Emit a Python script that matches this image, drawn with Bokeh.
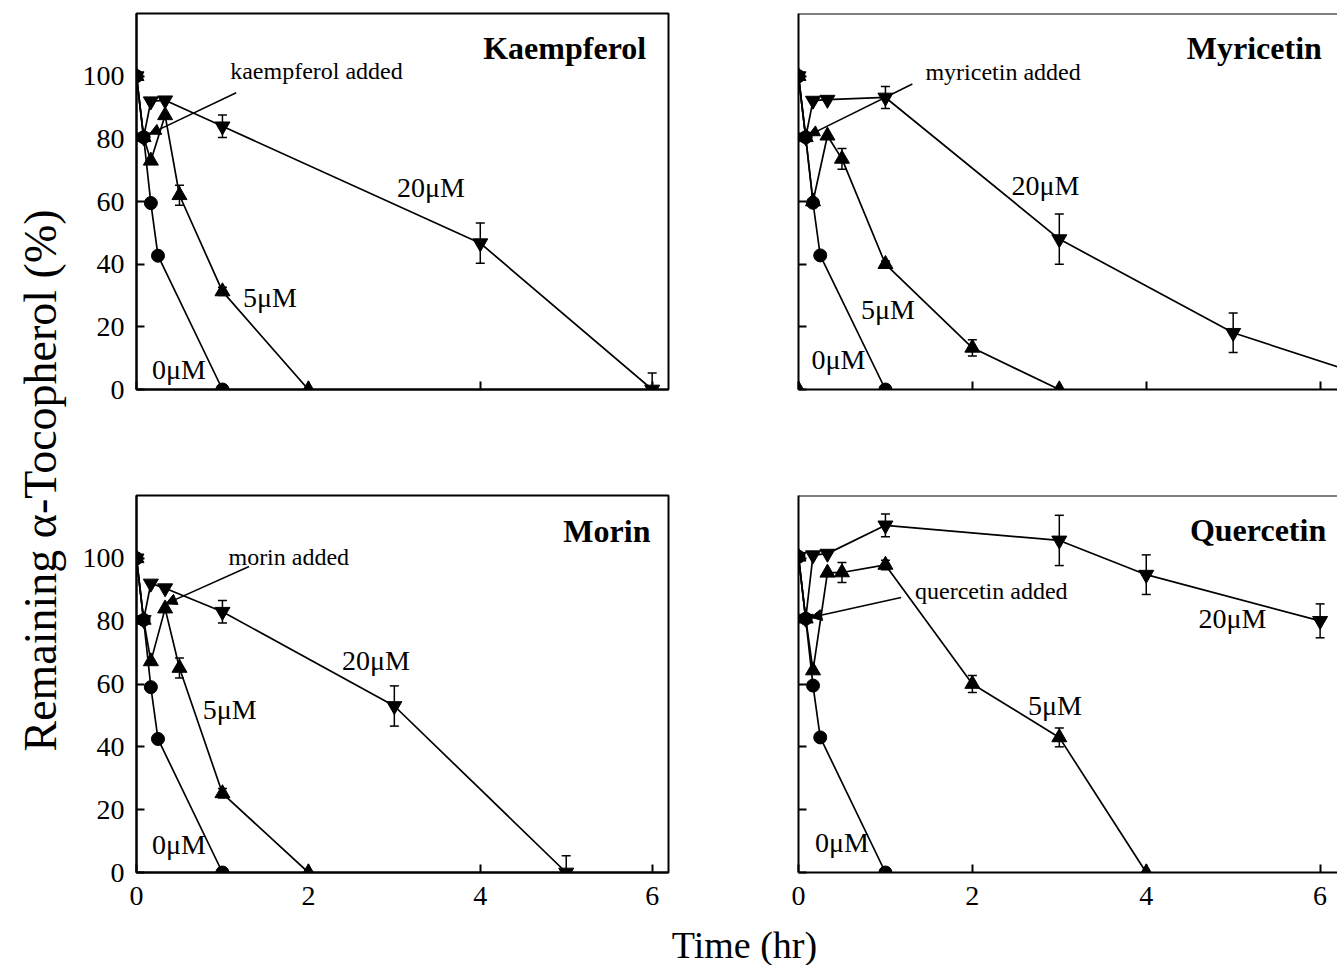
import math
from bokeh.plotting import figure
from bokeh.layouts import row, column
from bokeh.models import (Range1d, FixedTicker, Label, Whisker, TeeHead, Arrow,
                          NormalHead, ColumnDataSource, Span)
from bokeh.embed import file_html
from bokeh.resources import INLINE

FONT = "Liberation Serif"

TICKS_X = [0, 2, 4, 6]
TICKS_Y = [0, 20, 40, 60, 80, 100]

# ---------------- data (time in hr, remaining alpha-tocopherol in %) -------------
# Kaempferol
KAE_T0 = [0, 0.083, 0.167, 0.25, 1.0]
KAE_V0 = [100, 80.5, 59.5, 42.7, 0]
KAE_T5 = [0, 0.083, 0.167, 0.333, 0.5, 1.0, 2.0]
KAE_V5 = [100, 80.5, 73, 87.5, 62, 31.3, 0]
KAE_E5 = [0, 0, 0, 0, 3.2, 1.3, 0]
KAE_T20 = [0, 0.083, 0.167, 0.333, 1.0, 4.0, 6.0]
KAE_V20 = [100, 80.5, 92, 92.3, 84, 46.7, 0]
KAE_E20 = [0, 0, 0, 0, 3.6, 6.4, 5.3]

# Myricetin
MYR_T0 = [0, 0.083, 0.167, 0.25, 1.0]
MYR_V0 = [100, 80.5, 59.6, 42.8, 0]
MYR_T5 = [0, 0.083, 0.167, 0.333, 0.5, 1.0, 2.0, 3.0]
MYR_V5 = [100, 80.5, 60, 81, 73.6, 40, 13.3, 0]
MYR_E5 = [0, 0, 0, 0, 3.3, 1.0, 2.6, 0]
MYR_T20 = [0, 0.083, 0.167, 0.333, 1.0, 3.0, 5.0, 7.0]
MYR_V20 = [100, 80.5, 92.2, 92.5, 93.2, 48, 18.1, 0]
MYR_E20 = [0, 0, 0, 0, 3.5, 8.0, 6.3, 0]
MYR_STRAY_T = [0]
MYR_STRAY_V = [0]

# Morin
MOR_T0 = [0, 0.083, 0.167, 0.25, 1.0]
MOR_V0 = [100, 80.4, 59, 42.5, 0]
MOR_T5 = [0, 0.083, 0.167, 0.333, 0.5, 1.0, 2.0]
MOR_V5 = [100, 80.4, 67.2, 84, 65.1, 25.2, 0]
MOR_E5 = [0, 0, 0, 0, 3.2, 1.5, 0]
MOR_T20 = [0, 0.083, 0.167, 0.333, 1.0, 3.0, 5.0]
MOR_V20 = [100, 80.4, 92, 90.5, 83, 53, 0]
MOR_E20 = [0, 0, 0, 0, 3.6, 6.4, 5.3]

# Quercetin
QUE_T0 = [0, 0.083, 0.167, 0.25, 1.0]
QUE_V0 = [100.5, 80.8, 59.5, 43, 0]
QUE_T5 = [0, 0.083, 0.167, 0.333, 0.5, 1.0, 2.0, 3.0, 4.0]
QUE_V5 = [100.5, 80.8, 64.3, 95.4, 95.5, 97.9, 60, 43, 0]
QUE_E5 = [0, 0, 0, 0, 3.2, 1.5, 2.7, 3.0, 0]
QUE_T20 = [0, 0.083, 0.167, 0.333, 1.0, 3.0, 4.0, 6.0]
QUE_V20 = [100.5, 80.8, 101, 101.5, 110.5, 105.7, 94.8, 80.1]
QUE_E20 = [0, 0, 0, 0, 3.6, 8.0, 6.3, 5.4]

TITLES = ["Kaempferol", "Myricetin", "Morin", "Quercetin"]
ADDED = ["kaempferol added", "myricetin added", "morin added", "quercetin added"]
CONC = ["0\u03bcM", "5\u03bcM", "20\u03bcM"]


def style_axes(p, xlabels, ylabels):
    for ax in (p.xaxis[0], p.yaxis[0]):
        ax.axis_line_width = 2
        ax.axis_line_color = "black"
        ax.major_tick_line_width = 2
        ax.major_tick_line_color = "black"
        ax.major_tick_in = 8
        ax.major_tick_out = 0
        ax.minor_tick_line_color = None
        ax.major_label_text_font = FONT
        ax.major_label_text_font_size = "28px"
        ax.major_label_text_color = "black"
    p.xaxis[0].ticker = FixedTicker(ticks=TICKS_X)
    p.yaxis[0].ticker = FixedTicker(ticks=TICKS_Y)
    p.xaxis[0].major_label_standoff = 14
    p.yaxis[0].major_label_standoff = 12
    if not xlabels:
        p.xaxis[0].major_label_overrides = {t: "" for t in TICKS_X}
    if not ylabels:
        p.yaxis[0].major_label_overrides = {t: "" for t in TICKS_Y}


def make_panel(series, title, added, pos, width, height, mb, xmax,
               xlabels, ylabels, open_right, stray=None):
    p = figure(width=width, height=height, x_range=Range1d(0, xmax),
               y_range=Range1d(0, 120), toolbar_location=None,
               output_backend="svg", min_border_left=mb[0],
               min_border_right=mb[1], min_border_top=mb[2],
               min_border_bottom=mb[3])
    p.grid.visible = False
    p.background_fill_color = "white"
    p.border_fill_color = "white"
    if open_right:
        p.outline_line_color = None
        p.add_layout(Span(location=120, dimension="width", line_color="black",
                          line_width=2))
    else:
        p.outline_line_color = "black"
        p.outline_line_width = 2
        p.outline_line_alpha = 1
    style_axes(p, xlabels, ylabels)

    (t0, v0), (t5, v5, e5), (t20, v20, e20) = series

    for t, v, e in ((t5, v5, e5), (t20, v20, e20)):
        bt = [ti for ti, ei in zip(t, e) if ei > 0]
        up = [vi + ei for vi, ei in zip(v, e) if ei > 0]
        lo = [max(vi - ei, 0) for vi, ei in zip(v, e) if ei > 0]
        src = ColumnDataSource(dict(t=bt, up=up, lo=lo))
        p.add_layout(Whisker(base="t", upper="up", lower="lo", source=src,
                             line_color="black", line_width=1.5,
                             upper_head=TeeHead(size=9, line_width=1.5),
                             lower_head=TeeHead(size=9, line_width=1.5)))

    p.line(t20, v20, line_color="black", line_width=1.7)
    p.line(t5, v5, line_color="black", line_width=1.7)
    p.line(t0, v0, line_color="black", line_width=1.7)
    p.scatter(t20, v20, marker="inverted_triangle", size=15, color="black")
    p.scatter(t5, v5, marker="triangle", size=15, color="black")
    if stray is not None:
        p.scatter(stray[0], stray[1], marker="triangle", size=15, color="black")
    p.scatter(t0, v0, marker="circle", size=13, color="black")

    p.add_layout(Label(x=pos["title"][0], y=pos["title"][1], text=title,
                       text_align="right", text_baseline="middle",
                       text_font=FONT, text_font_size="32px",
                       text_font_style="bold", text_color="black"))
    p.add_layout(Label(x=pos["added"][0], y=pos["added"][1], text=added,
                       text_align="left", text_baseline="middle",
                       text_font=FONT, text_font_size="24px", text_color="black"))
    a = pos["arrow"]
    p.add_layout(Arrow(x_start=a[0], y_start=a[1], x_end=a[2], y_end=a[3],
                       line_width=1.5, line_color="black",
                       end=NormalHead(size=11, fill_color="black",
                                      line_color="black", line_width=1)))
    for lab, key in zip(CONC, ("c0", "c5", "c20")):
        p.add_layout(Label(x=pos[key][0], y=pos[key][1], text=lab,
                           text_align="left", text_baseline="middle",
                           text_font=FONT, text_font_size="28px",
                           text_color="black"))
    return p


POS_KAE = dict(title=(5.93, 109), added=(1.09, 101.5), arrow=(1.16, 94.7, 0.15, 81.5),
               c0=(0.18, 6.5), c5=(1.24, 29.5), c20=(3.03, 64.5))
POS_MYR = dict(title=(6.02, 109), added=(1.46, 101.2), arrow=(1.31, 97.5, 0.11, 81.0),
               c0=(0.15, 9.5), c5=(0.72, 25.5), c20=(2.45, 65))
POS_MOR = dict(title=(5.98, 108.6), added=(1.07, 100.5), arrow=(1.31, 97.4, 0.34, 85.5),
               c0=(0.18, 9.0), c5=(0.77, 52), c20=(2.39, 67.5))
POS_QUE = dict(title=(6.07, 109), added=(1.34, 89.5), arrow=(1.18, 87.5, 0.14, 81.2),
               c0=(0.19, 9.5), c5=(2.64, 53), c20=(4.6, 81))

YLAB_W = 72
TOP_H, BOT_H, XLAB_H = 438, 485, 42
LEFT_W, RIGHT_W = 661, 604
TOTAL_W = YLAB_W + LEFT_W + RIGHT_W

tl = make_panel(((KAE_T0, KAE_V0), (KAE_T5, KAE_V5, KAE_E5), (KAE_T20, KAE_V20, KAE_E20)),
                TITLES[0], ADDED[0], POS_KAE, LEFT_W, TOP_H, (64, 65, 13, 49), 6.19,
                False, True, False)
tr = make_panel(((MYR_T0, MYR_V0), (MYR_T5, MYR_V5, MYR_E5), (MYR_T20, MYR_V20, MYR_E20)),
                TITLES[1], ADDED[1], POS_MYR, RIGHT_W, TOP_H, (65, 0, 13, 49), 6.2,
                False, False, True, stray=(MYR_STRAY_T, MYR_STRAY_V))
bl = make_panel(((MOR_T0, MOR_V0), (MOR_T5, MOR_V5, MOR_E5), (MOR_T20, MOR_V20, MOR_E20)),
                TITLES[2], ADDED[2], POS_MOR, LEFT_W, BOT_H, (64, 65, 57, 51), 6.19,
                True, True, False)
br = make_panel(((QUE_T0, QUE_V0), (QUE_T5, QUE_V5, QUE_E5), (QUE_T20, QUE_V20, QUE_E20)),
                TITLES[3], ADDED[3], POS_QUE, RIGHT_W, BOT_H, (65, 0, 57, 51), 6.2,
                True, False, True)

ylab = figure(width=YLAB_W, height=TOP_H + BOT_H, x_range=Range1d(0, YLAB_W),
              y_range=Range1d(0, TOP_H + BOT_H), toolbar_location=None,
              output_backend="svg", min_border=0, x_axis_location=None,
              y_axis_location=None)
ylab.grid.visible = False
ylab.outline_line_color = None
ylab.add_layout(Label(x=40, y=TOP_H + BOT_H - 480, text="Remaining \u03b1-Tocopherol (%)",
                      angle=math.pi / 2, text_align="center",
                      text_baseline="middle", text_font=FONT,
                      text_font_size="46px", text_color="black"))

xlab = figure(width=TOTAL_W, height=XLAB_H, x_range=Range1d(0, TOTAL_W),
              y_range=Range1d(0, XLAB_H), toolbar_location=None, output_backend="svg",
              min_border=0, x_axis_location=None, y_axis_location=None)
xlab.grid.visible = False
xlab.outline_line_color = None
xlab.add_layout(Label(x=744, y=21, text="Time (hr)", text_align="center",
                      text_baseline="middle", text_font=FONT,
                      text_font_size="38px", text_color="black"))

layout = column(row(ylab, column(row(tl, tr), row(bl, br))), xlab)

open("out.html", "w").write(file_html(layout, INLINE))
